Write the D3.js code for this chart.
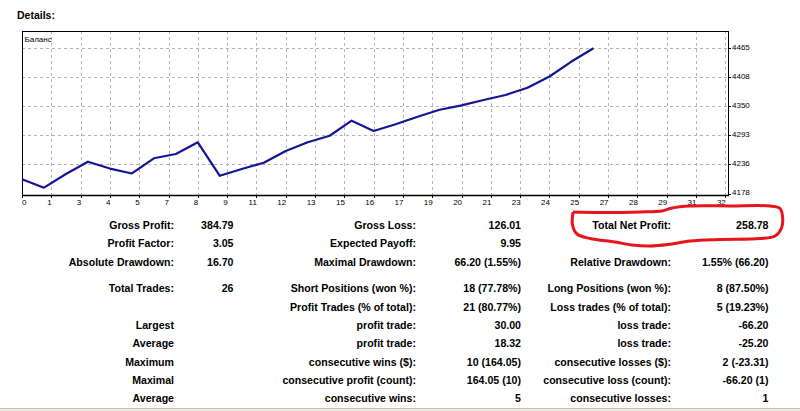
<!DOCTYPE html>
<html><head><meta charset="utf-8">
<script src="https://cdn.jsdelivr.net/npm/d3@7/dist/d3.min.js"></script>
<style>
html,body{margin:0;padding:0;background:#fff;}
svg text{font-family:"Liberation Sans",Arial,sans-serif;}
</style></head>
<body>
<svg id="c" width="800" height="411"></svg>
<script>
// ---- data ----
const tradeIndex = [0,1,2,3,4,5,6,7,8,9,10,11,12,13,14,15,16,17,18,19,20,21,22,23,24,25,26];
const balance = [4206.4,4189.7,4216.7,4241.1,4227.5,4217.8,4247.8,4256.3,4279.4,4213.2,4226.6,4239.1,4262.2,4279.4,4292.4,4322.1,4301.7,4315.0,4330.0,4343.8,4352.5,4363.0,4372.9,4387.3,4409.5,4439.0,4465.2];
const xTickLabels = ["0","1","3","4","5","7","8","9","11","12","13","15","16","17","19","20","21","23","24","25","27","28","29","31","32"];
const yTickValues = [4178.2,4235.6,4293.0,4350.4,4407.8,4465.2];
const yTickLabels = ["4178","4236","4293","4350","4408","4465"];
const seriesName = "Баланс";

const col1Labels = ["Gross Profit:","Profit Factor:","Absolute Drawdown:","Total Trades:","","Largest","Average","Maximum","Maximal","Average"];
const col1Values = ["384.79","3.05","16.70","26","","","","","",""];
const col2Labels = ["Gross Loss:","Expected Payoff:","Maximal Drawdown:","Short Positions (won %):","Profit Trades (% of total):","profit trade:","profit trade:","consecutive wins ($):","consecutive profit (count):","consecutive wins:"];
const col2Values = ["126.01","9.95","66.20 (1.55%)","18 (77.78%)","21 (80.77%)","30.00","18.32","10 (164.05)","164.05 (10)","5"];
const col3Labels = ["Total Net Profit:","","Relative Drawdown:","Long Positions (won %):","Loss trades (% of total):","loss trade:","loss trade:","consecutive losses ($):","consecutive loss (count):","consecutive losses:"];
const col3Values = ["258.78","","1.55% (66.20)","8 (87.50%)","5 (19.23%)","-66.20","-25.20","2 (-23.31)","-66.20 (1)","1"];

// ---- layout ----
const svg = d3.select("#c");
const L = 22, R = 728, T = 31, B = 195;
const x = d3.scaleLinear().domain([0,32]).range([22,725.3]);
const y = d3.scaleLinear().domain([4178.2,4465.2]).range([193.5,48.3]);

svg.append("text").attr("x",17).attr("y",19).attr("font-size",10.5).attr("font-weight","bold").attr("fill","#000").text("Details:");

// grid
const xTickVals = xTickLabels.map((d,i)=> i*32/(xTickLabels.length-1));
svg.append("g").selectAll("line").data(xTickVals.slice(1)).join("line")
  .attr("x1",d=>Math.round(x(d))+0.5).attr("x2",d=>Math.round(x(d))+0.5)
  .attr("y1",T).attr("y2",B)
  .attr("stroke","#b4b4b4").attr("stroke-dasharray","3,3");
svg.append("g").selectAll("line").data(yTickValues.slice(1)).join("line")
  .attr("x1",L).attr("x2",R)
  .attr("y1",d=>Math.round(y(d))+0.5).attr("y2",d=>Math.round(y(d))+0.5)
  .attr("stroke","#b4b4b4").attr("stroke-dasharray","3,3");

// frame
svg.append("rect").attr("x",L+0.5).attr("y",T+0.5).attr("width",R-L).attr("height",B-T)
  .attr("fill","none").attr("stroke","#000").attr("stroke-width",1);
svg.append("line").attr("x1",L).attr("x2",R+1).attr("y1",B+0.5).attr("y2",B+0.5).attr("stroke","#000").attr("stroke-width",1.5);

// x tick marks + labels
const xg = svg.append("g");
xg.selectAll("line").data(xTickVals).join("line")
  .attr("x1",d=>Math.round(x(d))+0.5).attr("x2",d=>Math.round(x(d))+0.5)
  .attr("y1",B).attr("y2",B+3).attr("stroke","#000");
xg.selectAll("text").data(xTickLabels).join("text")
  .attr("x",(d,i)=> i===0 ? x(xTickVals[i]) : x(xTickVals[i])+0.5)
  .attr("y",205)
  .attr("text-anchor",(d,i)=> i===0 ? "start":"end")
  .attr("font-size",8).attr("fill","#000").text(d=>d);

// y tick marks + labels
const yg = svg.append("g");
yg.selectAll("line").data(yTickValues).join("line")
  .attr("x1",R).attr("x2",R+3)
  .attr("y1",d=>Math.round(y(d))+0.5).attr("y2",d=>Math.round(y(d))+0.5).attr("stroke","#000");
yg.selectAll("text").data(yTickValues).join("text")
  .attr("x",732).attr("y",d=>y(d)+1.5)
  .attr("font-size",8).attr("fill","#000").text((d,i)=>yTickLabels[i]);

// series label
svg.append("text").attr("x",24.5).attr("y",41.5).attr("font-size",8).attr("fill","#000").text(seriesName);

// line
const line = d3.line().x((d,i)=>x(tradeIndex[i])).y(d=>y(d));
svg.append("path").datum(balance).attr("d",line)
  .attr("fill","none").attr("stroke","#141496").attr("stroke-width",2.2).attr("stroke-linejoin","round");

// table
const rowY = [225,243.5,262,288.5,307,325.3,343.5,361.7,380,398.4];
const cols = [
  {data:col1Labels,x:174},{data:col1Values,x:233.5},
  {data:col2Labels,x:416},{data:col2Values,x:521},
  {data:col3Labels,x:671},{data:col3Values,x:768.5}
];
const tg = svg.append("g").attr("font-size",10.6).attr("font-weight","bold").attr("fill","#000");
cols.forEach(c=>{
  tg.append("g").selectAll("text").data(c.data).join("text")
    .attr("x",c.x).attr("y",(d,i)=>rowY[i]+3.8).attr("text-anchor","end").text(d=>d);
});

// red hand-drawn highlight
const mark = [[573,212],[600,212.5],[640,212],[662,211],[672,208],[690,206],[730,206],[770,206],[780,208.5],[782.5,216],[781.5,228],[775,236],[760,238.5],[720,239.5],[690,241],[668,244.5],[650,246],[632,245],[615,242],[590,238.5],[577,234],[572.5,225],[573,212]];
svg.append("path").attr("d",d3.line().curve(d3.curveCatmullRom)(mark))
  .attr("fill","none").attr("stroke","#e8141c").attr("stroke-width",3).attr("stroke-linejoin","round");

// bottom window band
svg.append("rect").attr("x",0).attr("y",408).attr("width",800).attr("height",3).attr("fill","#e9e7dd");
svg.append("line").attr("x1",0).attr("x2",800).attr("y1",408.5).attr("y2",408.5).attr("stroke","#c2c0b6");
</script>
</body></html>
